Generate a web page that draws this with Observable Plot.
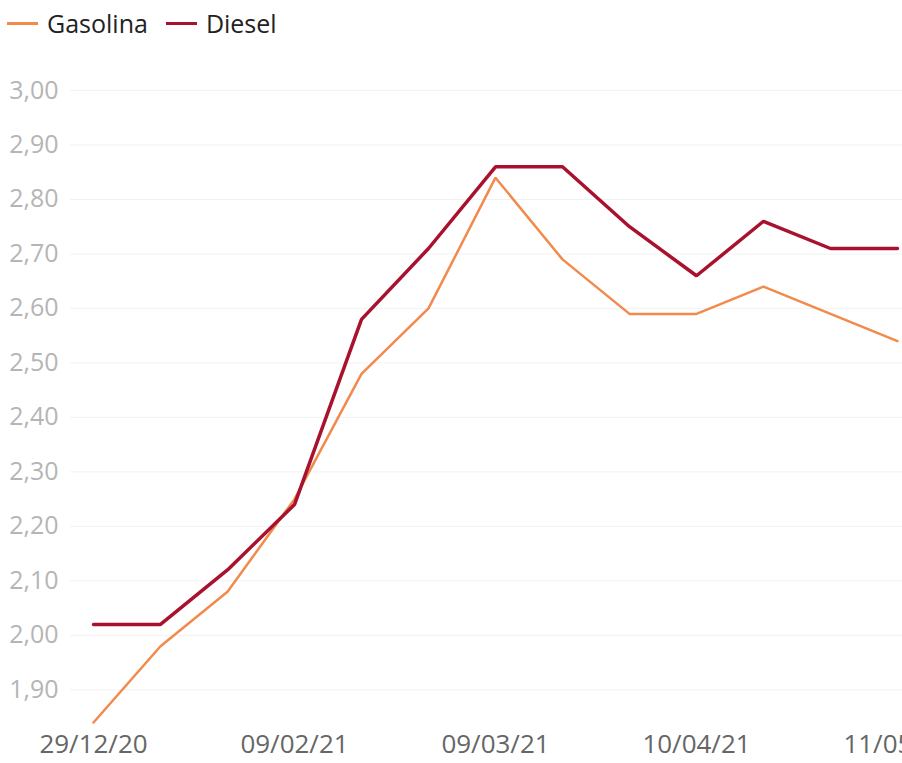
<!DOCTYPE html>
<html><head><meta charset="utf-8">
<script src="https://cdn.jsdelivr.net/npm/d3@7"></script>
<script src="https://cdn.jsdelivr.net/npm/@observablehq/plot@0.6"></script>
<style>
body{margin:0;background:#fff;font-family:"Open Sans",sans-serif;}
#wrap{width:902px;height:763px;overflow:hidden;position:relative;background:#fff}
#legend{height:50px;display:flex;align-items:center;padding-left:7px;font-size:25px;color:#222;box-sizing:border-box;padding-bottom:4px}
.item{display:flex;align-items:center;margin-right:18px}
.sw{width:31px;height:3px;margin-right:9px}
#chart svg{max-width:none !important}
</style></head><body><div id="wrap"><div id="legend"></div><div id="chart"></div></div>
<script>
const dates = ["29/12/20","12/01/21","26/01/21","09/02/21","18/02/21","28/02/21","09/03/21","19/03/21","29/03/21","10/04/21","20/04/21","30/04/21","11/05/21"];
const gasolina = [1.84,1.98,2.08,2.25,2.48,2.60,2.84,2.69,2.59,2.59,2.64,2.59,2.54];
const diesel   = [2.02,2.02,2.12,2.24,2.58,2.71,2.86,2.86,2.75,2.66,2.76,2.71,2.71];
const seriesNames = ["Gasolina","Diesel"];
const seriesColors = ["#f28a4c","#a8122e"];
const seriesWidths = [2.5,3.5];
const yTicks = [1.9,2.0,2.1,2.2,2.3,2.4,2.5,2.6,2.7,2.8,2.9,3.0];
const xTickLabels = ["29/12/20","09/02/21","09/03/21","10/04/21","11/05/21"];

const legend = document.getElementById("legend");
seriesNames.forEach((n,i)=>{
  const it=document.createElement("div");it.className="item";
  const sw=document.createElement("div");sw.className="sw";sw.style.background=seriesColors[i];
  const t=document.createElement("span");t.textContent=n;
  it.appendChild(sw);it.appendChild(t);legend.appendChild(it);
});

const rows = [];
[gasolina,diesel].forEach((vals,si)=>vals.forEach((v,i)=>rows.push({date:dates[i],value:v,series:seriesNames[si]})));
const fmt = v => v.toFixed(2).replace(".",",");

const chart = Plot.plot({
  width: 920,
  height: 713,
  marginLeft: 70,
  marginRight: 0,
  marginTop: 40,
  marginBottom: 41,
  style: {fontFamily: "'Open Sans', sans-serif", fontSize: "25px", background: "#fff", overflow: "hidden", maxWidth: "none"},
  x: {type: "point", domain: dates, padding: 0.3},
  y: {domain: [1.84, 3.0]},
  marks: [
    Plot.gridY(yTicks, {stroke: "#f2f2f2", strokeOpacity: 1}),
    Plot.axisY(yTicks, {tickSize: 0, tickPadding: 12, tickFormat: fmt, fill: "#b5b5b5", label: null}),
    Plot.axisX(xTickLabels, {tickSize: 0, tickPadding: 12, fill: "#666", fontSize: 26, label: null}),
    ...seriesNames.map((n,i)=>Plot.line(rows.filter(d=>d.series===n), {x:"date", y:"value", stroke: seriesColors[i], strokeWidth: seriesWidths[i], strokeLinejoin:"miter"}))
  ]
});
document.getElementById("chart").appendChild(chart);
</script></body></html>
